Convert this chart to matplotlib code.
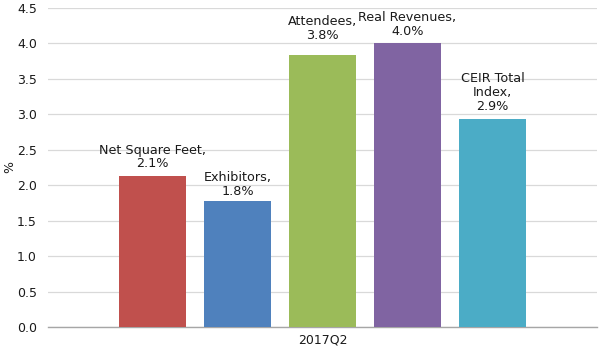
import matplotlib
matplotlib.use("Agg")
import matplotlib.pyplot as plt

# Рост показателей выставок, 2017Q2 (% год к году)
categories = ["Net Square Feet", "Exhibitors", "Attendees", "Real Revenues", "CEIR Total\nIndex"]
values = [2.13, 1.78, 3.84, 4.00, 2.93]
colors = ["#C0504D", "#4F81BD", "#9BBB59", "#8064A2", "#4BACC6"]
period = "2017Q2"
yticks = [0.0, 0.5, 1.0, 1.5, 2.0, 2.5, 3.0, 3.5, 4.0, 4.5]

# отступ подписи над столбцом, pt
label_offsets = [4, 2, 9, 4, 4.5]

INK = "#1a1a1a"
GRID = "#d9d9d9"

fig = plt.figure(figsize=(6.0, 3.47), dpi=100, facecolor="white")
ax = fig.add_axes([0.08, 0.0576, 0.915, 0.9194])

xs = list(range(len(values)))
ax.bar(xs, values, width=0.79, color=colors, zorder=3)

for x, cat, v, dy in zip(xs, categories, values, label_offsets):
    ax.annotate(f"{cat},\n{v:.1f}%", (x, v), xytext=(0, dy), textcoords="offset points",
                ha="center", va="bottom", fontsize=9.2, color=INK, linespacing=1.08, zorder=4)

ax.set_xlim(2 - 3.23, 2 + 3.23)
ax.set_ylim(0, 4.5)
ax.set_yticks(yticks)
ax.set_yticklabels([f"{t:.1f}" for t in yticks])
ax.set_xticks([2])
ax.set_xticklabels([period])
ax.tick_params(axis="both", length=0, labelsize=9, colors=INK)
ax.tick_params(axis="y", pad=8)
ax.tick_params(axis="x", pad=5)

ax.grid(True, axis="y", color=GRID, linewidth=0.9, zorder=0)
ax.set_axisbelow(True)
for side in ("top", "right", "left"):
    ax.spines[side].set_visible(False)
ax.spines["bottom"].set_color("#a6a6a6")
ax.spines["bottom"].set_linewidth(1.0)

ax.set_ylabel("%", fontsize=9, color=INK)
ax.yaxis.set_label_coords(-0.058, 0.5)

fig.savefig("out.png", dpi=100, facecolor="white")
